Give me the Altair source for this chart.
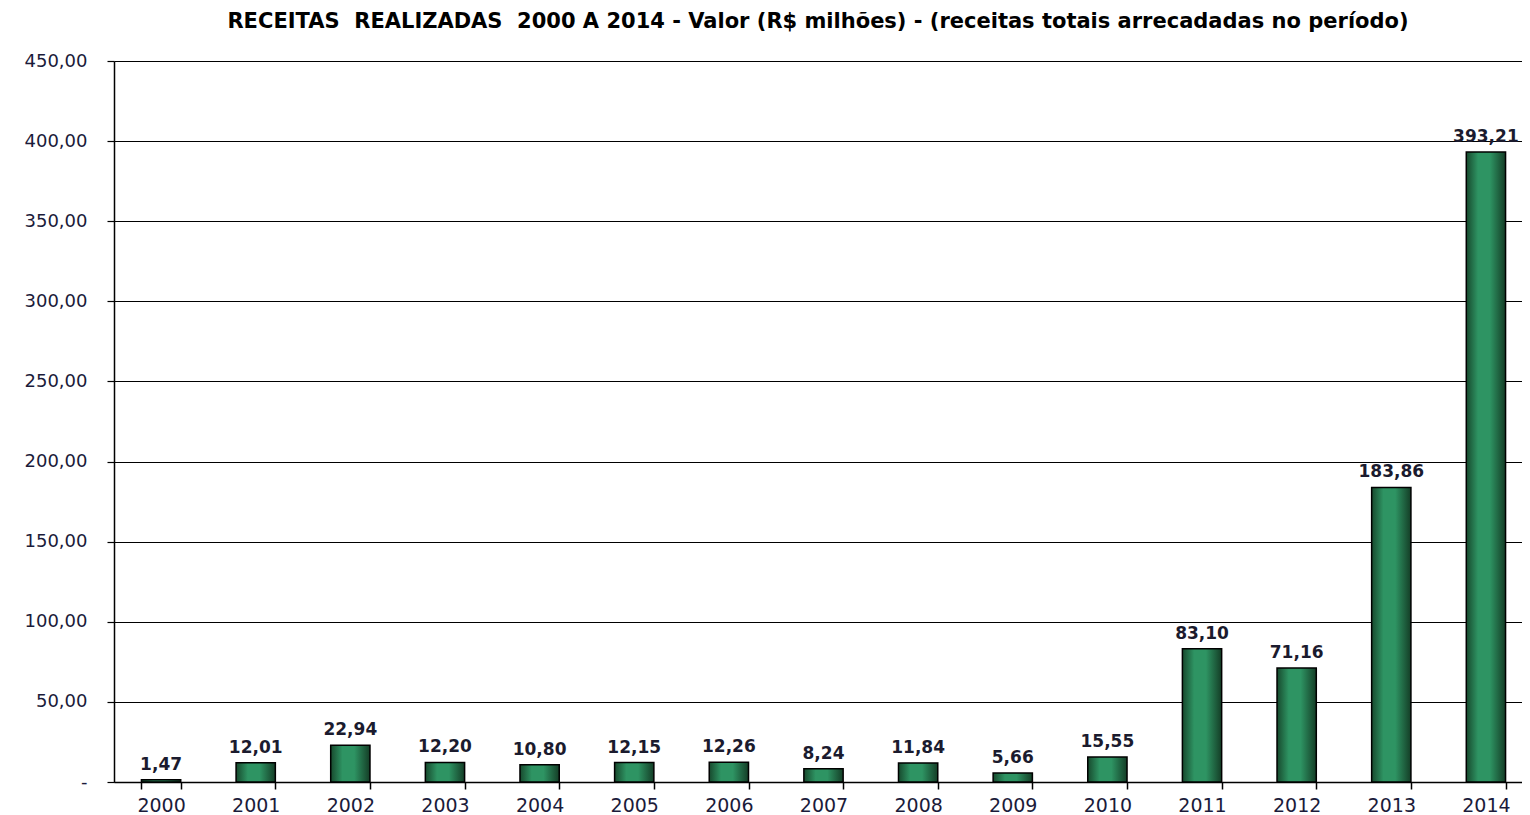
import altair as alt
import pandas as pd

years = ["2000", "2001", "2002", "2003", "2004", "2005", "2006", "2007",
         "2008", "2009", "2010", "2011", "2012", "2013", "2014"]
values = [1.47, 12.01, 22.94, 12.20, 10.80, 12.15, 12.26, 8.24,
          11.84, 5.66, 15.55, 83.10, 71.16, 183.86, 393.21]
y_ticks = [0, 50, 100, 150, 200, 250, 300, 350, 400, 450]

df = pd.DataFrame({"ano": years, "valor": values})

title = alt.TitleParams(
    text="RECEITAS\u00a0\u00a0REALIZADAS\u00a0\u00a02000 A 2014 - Valor (R$ milhões) - (receitas totais arrecadadas no período)",
    font="DejaVu Sans", fontSize=21, fontWeight="bold", color="#000000",
    anchor="middle", offset=20,
)

x = alt.X("ano:N", sort=years, title=None,
          scale=alt.Scale(paddingInner=0.585, paddingOuter=0.29, range=[0, 1419]),
          axis=alt.Axis(labelAngle=0, labelFont="DejaVu Sans", labelFontSize=19,
                        labelColor="#1b1b3a", tickBand="extent", tickSize=7,
                        tickColor="#000000", domainColor="#000000", domainWidth=1.5,
                        tickWidth=1.5, labelPadding=7, grid=False))
y = alt.Y("valor:Q", title=None,
          scale=alt.Scale(domain=[0, 450], nice=False),
          axis=alt.Axis(values=y_ticks, labelFont="DejaVu Sans", labelFontSize=18,
                        labelColor="#1b1b3a", tickSize=7, tickColor="#000000",
                        tickWidth=1.2, domainColor="#000000", domainWidth=1.5,
                        labelPadding=20, grid=True, gridColor="#000000", gridWidth=1,
                        labelExpr="datum.value == 0 ? '-\u00a0\u00a0\u00a0\u00a0' : replace(format(datum.value, '.2f'), '.', ',')"))

gradient = alt.Gradient(
    gradient="linear", x1=0, x2=1, y1=0, y2=0,
    stops=[alt.GradientStop(offset=0, color="#17492d"),
           alt.GradientStop(offset=0.3, color="#2e9463"),
           alt.GradientStop(offset=0.6, color="#2e9463"),
           alt.GradientStop(offset=1, color="#143d26")])

bars = alt.Chart(df).mark_bar(color=gradient, stroke="#000000", strokeWidth=1.5).encode(x=x, y=y)

text = alt.Chart(df).transform_calculate(
    rotulo="replace(format(datum.valor, '.2f'), '.', ',')"
).mark_text(font="DejaVu Sans", fontSize=17, fontWeight="bold", color="#1b1b2e",
            baseline="bottom", dy=-6).encode(
    x=alt.X("ano:N", sort=years), y="valor:Q", text="rotulo:N")

chart = (bars + text).properties(
    width=1408, height=721, title=title,
    autosize=alt.AutoSizeParams(type="none"),
    padding={"left": 106, "top": 53, "right": 0, "bottom": 33},
).configure_view(stroke=None).configure(background="#ffffff")

chart.save("out.html", embed_options={"renderer": "svg", "actions": False})
